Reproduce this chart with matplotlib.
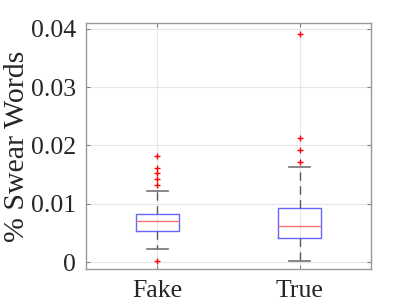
import matplotlib
matplotlib.use("Agg")
import matplotlib.pyplot as plt

categories = ["Fake", "True"]
q1 = [0.0053, 0.0042]
med = [0.0071, 0.0062]
q3 = [0.0082, 0.0092]
whislo = [0.0022, 0.0002]
whishi = [0.0121, 0.0163]
fliers = [[0.0132, 0.0142, 0.0152, 0.0161, 0.0182, 0.0002],
          [0.0172, 0.0192, 0.0212, 0.0391]]
yticks = [0, 0.01, 0.02, 0.03, 0.04]
yticklabels = ["0", "0.01", "0.02", "0.03", "0.04"]

plt.rcParams['font.family'] = ['Liberation Serif', 'DejaVu Serif']
fig = plt.figure(figsize=(4.11, 3.08), dpi=100)
ax = fig.add_axes([86/411, 39/308, 285/411, 246/308])

stats = []
for i, c in enumerate(categories):
    stats.append(dict(label=c, q1=q1[i], med=med[i], q3=q3[i],
                      whislo=whislo[i], whishi=whishi[i], fliers=fliers[i]))

ax.bxp(stats, positions=[1, 2], widths=0.3,
       boxprops=dict(color=(0.4, 0.4, 1.0), linewidth=1.0),
       medianprops=dict(color=(1.0, 0.45, 0.45), linewidth=1.0),
       whiskerprops=dict(color=(0.35, 0.35, 0.35), linewidth=1.0, linestyle=(0, (6, 4))),
       capprops=dict(color=(0.45, 0.45, 0.45), linewidth=1.2),
       capwidths=0.15,
       flierprops=dict(marker='+', markeredgecolor='red', markersize=5, markeredgewidth=1.0, linestyle='none'),
       zorder=3)

ax.set_xlim(0.5, 2.5)
ax.set_ylim(-0.0012, 0.041)
ax.set_yticks(yticks)
ax.set_yticklabels(yticklabels)
ax.set_xticks([1, 2])
ax.set_xticklabels(categories)
ax.grid(True, color=(0.9, 0.9, 0.9), linewidth=0.8, zorder=0)
ax.set_axisbelow(True)
for s in ax.spines.values():
    s.set_color((0.6, 0.6, 0.6))
    s.set_linewidth(1.0)
ax.tick_params(direction='in', length=3, color=(0.5, 0.5, 0.5), labelsize=18.5,
               right=True, top=True, labelcolor='#262626')
ax.tick_params(axis='y', pad=7)
ax.tick_params(axis='x', pad=8)
ax.set_ylabel("% Swear Words", fontsize=21.5, color='#262626')
ax.yaxis.set_label_coords(-56/285, 0.5)

fig.savefig("out.png", dpi=100)
